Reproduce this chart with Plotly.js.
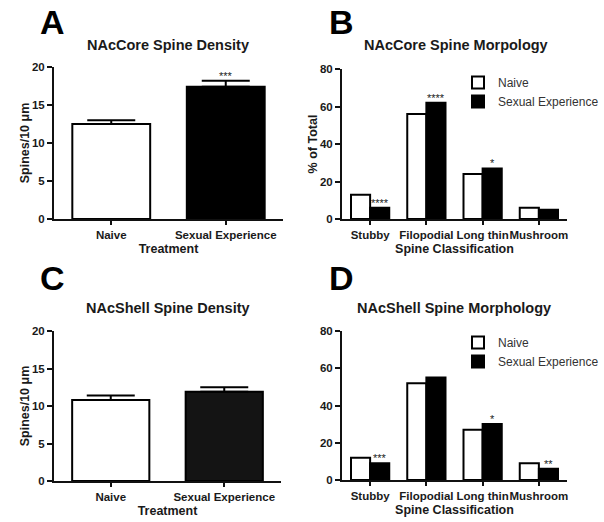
<!DOCTYPE html>
<html><head><meta charset="utf-8">
<script src="https://cdn.plot.ly/plotly-3.0.1.min.js"></script>
<style>html,body{margin:0;padding:0;background:#fff}#chart{width:604px;height:522px}</style>
</head><body><div id="chart"></div>
<script>
const treatments = ["Naive", "Sexual Experience"];
const coreDensity = [12.5, 17.4];
const coreDensityErr = [0.5, 0.8];
const coreDensityStars = ["", "***"];
const shellDensity = [10.8, 11.9];
const shellDensityErr = [0.6, 0.6];
const shellDensityStars = ["", ""];
const spineClasses = ["Stubby", "Filopodial", "Long thin", "Mushroom"];
const coreNaive = [13, 56, 24, 6];
const coreSexual = [6, 62, 27, 5];
const coreStars = ["****", "****", "*", ""];
const shellNaive = [12, 52, 27, 9];
const shellSexual = [9, 55, 30, 6];
const shellStars = ["***", "", "*", "**"];
const seriesNames = ["Naive", "Sexual Experience"];
const panelLetters = ["A", "B", "C", "D"];
const panelTitles = ["NAcCore Spine Density", "NAcCore Spine Morpology", "NAcShell Spine Density", "NAcShell Spine Morphology"];
const densityTitle = "Spines/10 \u03bcm";
const morphTitle = "% of Total";
const treatmentTitle = "Treatment";
const classTitle = "Spine Classification";

const FONT = "Liberation Sans, Arial, sans-serif";
const INK = "#1a1a1a";
const W = 604, H = 522;
const px = v => v / W, py = v => 1 - v / H;

function errY(arr) {
  return {type: "data", array: arr, arrayminus: arr.map(() => 0), symmetric: false,
          color: "#000", thickness: 2, width: 24, visible: true};
}
const barLine = {color: "#000", width: 2};

const data = [
  {type: "bar", x: treatments, y: coreDensity, xaxis: "x", yaxis: "y",
   marker: {color: ["#ffffff", "#000000"], line: barLine}, error_y: errY(coreDensityErr), showlegend: false},
  {type: "bar", x: spineClasses, y: coreNaive, name: seriesNames[0], xaxis: "x2", yaxis: "y2",
   marker: {color: "#ffffff", line: barLine}, legend: "legend"},
  {type: "bar", x: spineClasses, y: coreSexual, name: seriesNames[1], xaxis: "x2", yaxis: "y2",
   marker: {color: "#000000", line: barLine}, legend: "legend"},
  {type: "bar", x: treatments, y: shellDensity, xaxis: "x3", yaxis: "y3",
   marker: {color: ["#ffffff", "#141414"], line: barLine}, error_y: errY(shellDensityErr), showlegend: false},
  {type: "bar", x: spineClasses, y: shellNaive, name: seriesNames[0], xaxis: "x4", yaxis: "y4",
   marker: {color: "#ffffff", line: barLine}, legend: "legend2"},
  {type: "bar", x: spineClasses, y: shellSexual, name: seriesNames[1], xaxis: "x4", yaxis: "y4",
   marker: {color: "#000000", line: barLine}, legend: "legend2"}
];

const tickFont = {family: FONT, size: 11.5, color: INK, weight: "bold"};
const titleFont = {family: FONT, size: 12.5, color: INK, weight: "bold"};
function xa(dom, yref, n, title) {
  return {domain: dom, anchor: yref, type: "category", range: [-0.5, n - 0.5], tickangle: 0,
          showline: true, linewidth: 2, linecolor: "#111", ticks: "outside", ticklen: 4, tickwidth: 2,
          tickcolor: "#111", showgrid: false, zeroline: false, tickfont: tickFont, fixedrange: true,
          title: {text: title, font: titleFont, standoff: 4}};
}
function ya(dom, xref, max, dt, title) {
  return {domain: dom, anchor: xref, range: [0, max], dtick: dt,
          showline: true, linewidth: 2, linecolor: "#111", ticks: "outside", ticklen: 5, tickwidth: 2,
          tickcolor: "#111", showgrid: false, zeroline: false, tickfont: tickFont, fixedrange: true,
          title: {text: title, font: titleFont, standoff: 0}};
}

const annotations = [];
const letterPos = [[52, 22], [341, 22], [52, 278], [341, 278]];
const titlePos = [[168, 45], [456, 45], [168, 308], [454, 308]];
panelLetters.forEach((L, i) => annotations.push({xref: "paper", yref: "paper", x: px(letterPos[i][0]), y: py(letterPos[i][1]),
  text: L, showarrow: false, font: {family: FONT, size: 34, color: "#000", weight: "bold"}, xanchor: "center", yanchor: "middle"}));
panelTitles.forEach((t, i) => annotations.push({xref: "paper", yref: "paper", x: px(titlePos[i][0]), y: py(titlePos[i][1]),
  text: t, showarrow: false, font: {family: FONT, size: 14.5, color: INK, weight: "bold"}, xanchor: "center", yanchor: "middle"}));
function starAnn(stars, vals, errs, xr, yr, off) {
  stars.forEach((s, i) => { if (s) annotations.push({xref: xr, yref: yr, x: i + off, y: vals[i] + (errs ? errs[i] : 0),
    text: s, showarrow: false, font: {family: FONT, size: 11, color: INK}, xanchor: "center", yanchor: "bottom", yshift: -3}); });
}
starAnn(coreDensityStars, coreDensity, coreDensityErr, "x", "y", 0);
starAnn(shellDensityStars, shellDensity, shellDensityErr, "x3", "y3", 0);
starAnn(coreStars, coreSexual, null, "x2", "y2", 0.17);
starAnn(shellStars, shellSexual, null, "x4", "y4", 0.17);

const legendBase = {xanchor: "left", yanchor: "top", bgcolor: "rgba(0,0,0,0)", borderwidth: 0,
  font: {family: FONT, size: 12, color: "#333"}, tracegroupgap: 0, itemclick: false, itemdoubleclick: false};

const layout = {
  width: W, height: H, margin: {l: 0, r: 0, t: 0, b: 0},
  paper_bgcolor: "#fff", plot_bgcolor: "#fff",
  barmode: "group", bargap: 0.32, bargroupgap: 0,
  font: {family: FONT, color: INK},
  xaxis: xa([px(54), px(283)], "y", treatments.length, treatmentTitle),
  yaxis: ya([py(219), py(67)], "x", 20, 5, densityTitle),
  xaxis2: xa([px(342), px(567)], "y2", spineClasses.length, classTitle),
  yaxis2: ya([py(219), py(69)], "x2", 80, 20, morphTitle),
  xaxis3: xa([px(54), px(281)], "y3", treatments.length, treatmentTitle),
  yaxis3: ya([py(481), py(331)], "x3", 20, 5, densityTitle),
  xaxis4: xa([px(342), px(567)], "y4", spineClasses.length, classTitle),
  yaxis4: ya([py(480), py(331)], "x4", 80, 20, ""),
  legend: Object.assign({x: px(458), y: py(68)}, legendBase),
  legend2: Object.assign({x: px(458), y: py(328)}, legendBase),
  annotations: annotations
};

Plotly.newPlot("chart", data, layout, {staticPlot: true, displayModeBar: false});
</script></body></html>
